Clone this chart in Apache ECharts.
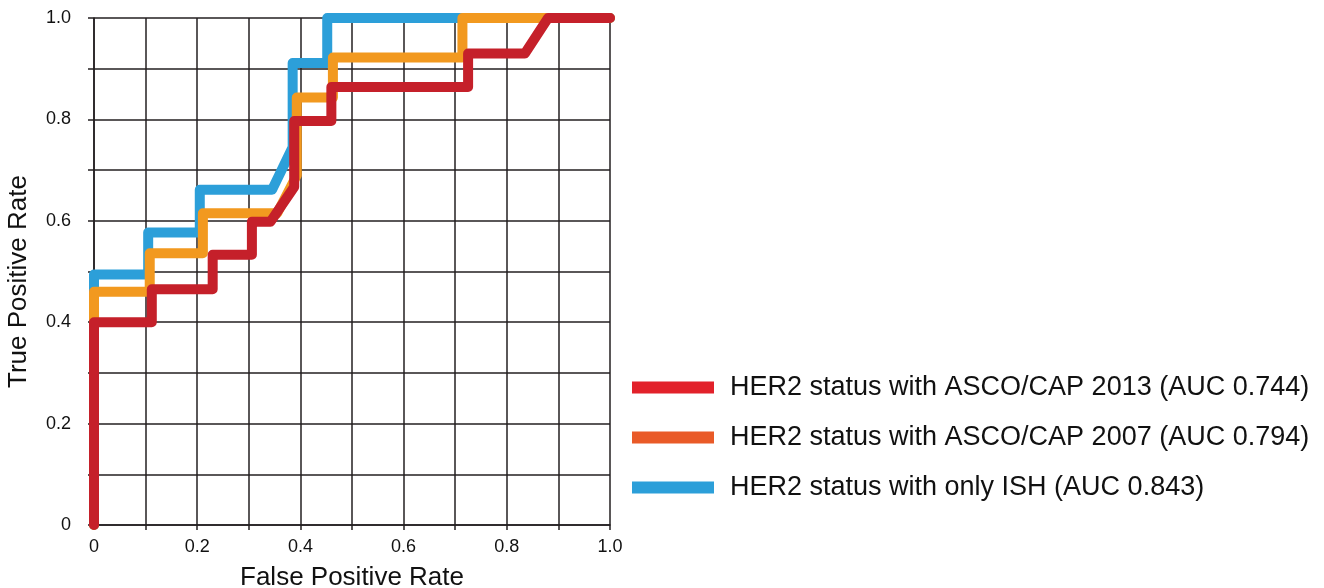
<!DOCTYPE html>
<html>
<head>
<meta charset="utf-8">
<script src="https://cdn.jsdelivr.net/npm/echarts@6/dist/echarts.min.js"></script>
<style>html,body{margin:0;padding:0;background:#fff}#c{width:1324px;height:588px}</style>
</head>
<body>
<div id="c"></div>
<script>
const seriesNames = [
  'HER2 status with ASCO/CAP 2013 (AUC 0.744)',
  'HER2 status with ASCO/CAP 2007 (AUC 0.794)',
  'HER2 status with only ISH (AUC 0.843)'
];
const xTickLabels = ['0', '0.2', '0.4', '0.6', '0.8', '1.0'];
const yTickLabels = ['0', '0.2', '0.4', '0.6', '0.8', '1.0'];
const roc2013 = [[0,0],[0,0.4],[0.112,0.4],[0.112,0.465],[0.23,0.465],[0.23,0.533],[0.306,0.533],[0.306,0.598],[0.342,0.598],[0.388,0.667],[0.388,0.797],[0.46,0.797],[0.46,0.864],[0.725,0.864],[0.725,0.93],[0.835,0.93],[0.88,1],[1,1]];
const roc2007 = [[0,0],[0,0.46],[0.108,0.46],[0.108,0.536],[0.211,0.536],[0.211,0.615],[0.355,0.615],[0.393,0.69],[0.393,0.843],[0.463,0.843],[0.463,0.922],[0.714,0.922],[0.714,1],[1,1]];
const rocISH = [[0,0],[0,0.494],[0.105,0.494],[0.105,0.577],[0.205,0.577],[0.205,0.661],[0.345,0.661],[0.385,0.745],[0.385,0.911],[0.452,0.911],[0.452,1],[1,1]];
const lineColors = ['#c5202a', '#f2991f', '#2c9fd9'];
const legendColors = ['#e2212a', '#e95a28', '#2c9fd9'];

const chart = echarts.init(document.getElementById('c'));
const fmt = labels => v => { const i = Math.round(v * 10); return i % 2 === 0 ? labels[i / 2] : ''; };
const mk = (i, data) => ({
  name: seriesNames[i], type: 'line', data: data, symbol: 'none',
  lineStyle: { color: lineColors[i], width: 10, cap: 'round', join: 'round' },
  itemStyle: { color: lineColors[i] }
});
chart.setOption({
  animation: false,
  textStyle: { fontFamily: 'Liberation Sans, Arial, sans-serif' },
  grid: { left: 94, top: 18, right: 714, bottom: 63, containLabel: false, outerBoundsMode: 'none' },
  xAxis: {
    type: 'value', min: 0, max: 1, interval: 0.1,
    name: 'False Positive Rate', nameLocation: 'middle', nameGap: 40,
    nameTextStyle: { fontSize: 26, color: '#111', fontFamily: 'Liberation Sans' },
    axisLine: { show: true, lineStyle: { color: '#231f20', width: 1.5 } },
    axisTick: { show: true, length: 5, lineStyle: { color: '#231f20', width: 1.5 } },
    splitLine: { show: true, lineStyle: { color: '#231f20', width: 1.5 } },
    axisLabel: { formatter: fmt(xTickLabels), fontSize: 18, color: '#111', margin: 13, fontFamily: 'Liberation Sans' }
  },
  yAxis: {
    type: 'value', min: 0, max: 1, interval: 0.1,
    name: 'True Positive Rate', nameLocation: 'middle', nameGap: 62, nameRotate: 90,
    nameTextStyle: { fontSize: 26, color: '#111', padding: [0, 20, 0, 0], fontFamily: 'Liberation Sans' },
    axisLine: { show: true, lineStyle: { color: '#231f20', width: 1.5 } },
    axisTick: { show: true, length: 6, lineStyle: { color: '#231f20', width: 1.5 } },
    splitLine: { show: true, lineStyle: { color: '#231f20', width: 1.5 } },
    axisLabel: { formatter: fmt(yTickLabels), fontSize: 18, color: '#111', margin: 23, fontFamily: 'Liberation Sans' }
  },
  legend: {
    orient: 'vertical', left: 627, top: 369, itemWidth: 82, itemHeight: 12, itemGap: 23,
    icon: 'rect',
    textStyle: { fontSize: 27, color: '#111', lineHeight: 26, padding: [0, 0, 0, 11], fontFamily: 'Liberation Sans' },
    data: seriesNames.map((n, i) => ({ name: n, itemStyle: { color: legendColors[i] } }))
  },
  series: [mk(2, rocISH), mk(1, roc2007), mk(0, roc2013)]
});
</script>
</body>
</html>
